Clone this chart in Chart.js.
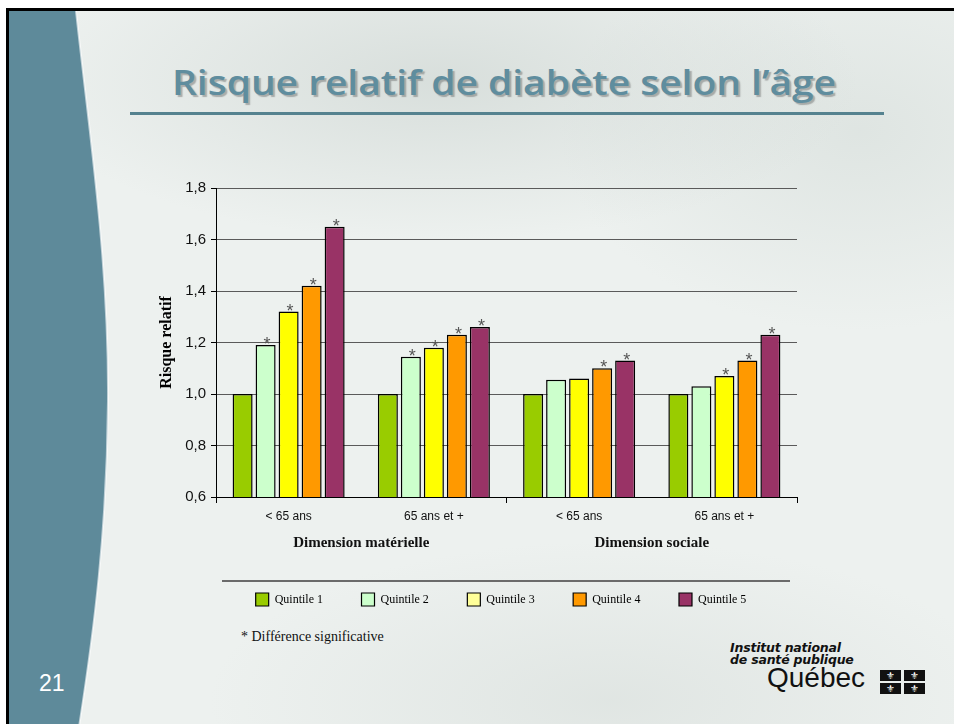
<!DOCTYPE html>
<html lang="fr">
<head>
<meta charset="utf-8">
<script src="https://cdn.jsdelivr.net/npm/chart.js@4"></script>
<style>
  html, body { margin: 0; padding: 0; background: #ffffff; }
  body { width: 954px; height: 724px; position: relative; overflow: hidden; }
  #slide {
    position: absolute; left: 6px; top: 8px; width: 948px; height: 716px;
    border-top: 3px solid #000; border-left: 3px solid #000; box-sizing: border-box;
    background:
      radial-gradient(ellipse 420px 160px at 430px 70px, rgba(190,200,196,0.45), rgba(190,200,196,0) 100%),
      radial-gradient(ellipse 300px 200px at 850px 120px, rgba(205,214,210,0.45), rgba(205,214,210,0) 100%),
      radial-gradient(ellipse 400px 160px at 600px 690px, rgba(200,208,204,0.35), rgba(200,208,204,0) 100%),
      #edf1ef;
    overflow: hidden;
  }
  #strip { position: absolute; left: 0; top: 0; }
  #title {
    position: absolute; left: 172px; top: 62px; white-space: nowrap;
    font-family: "Open Sans", "DejaVu Sans", sans-serif; font-weight: 600; font-size: 34px;
    color: #5f8d9e; text-shadow: 2px 2px 1px rgba(60,60,60,0.35);
    transform-origin: 0 0; line-height: 40px;
  }
  #rule { position: absolute; left: 130px; top: 112px; width: 754px; height: 3px; background: #55828f; }
  #pagenum { position: absolute; left: 39px; top: 670px; font-family: "Liberation Sans", Arial, sans-serif; font-size: 23px; color: #ffffff; }
  #note { position: absolute; left: 241px; top: 629px; font-family: "Liberation Serif", "Times New Roman", serif; font-size: 14px; color: #111; }
  #chart { position: absolute; left: 0; top: 0; }
  .logo1 { position: absolute; left: 730px; font-family: "DejaVu Sans", "Liberation Sans", sans-serif; font-weight: bold; font-style: italic; font-size: 12.5px; line-height: 13px; color: #111; letter-spacing: -0.2px; }
  .qc { position: absolute; left: 767px; top: 664px; font-family: "Liberation Sans", Arial, sans-serif; font-size: 28px; line-height: 28px; color: #111; }
  .flag { position: absolute; width: 21px; height: 11px; background: #111; color: #fff; font-size: 10px; line-height: 11px; text-align: center; font-family: "DejaVu Sans", sans-serif; }
</style>
</head>
<body>
<div id="slide">
  <svg id="strip" width="140" height="716">
    <path d="M0,0 L67,0 C80,120 100,250 99,390 C98,520 85,620 70,716 L0,716 Z" fill="#5e8a9a"/>
    <path d="M67,0 C80,120 100,250 99,390 C98,520 85,620 70,716" fill="none" stroke="#ffffff" stroke-opacity="0.6" stroke-width="2"/>
  </svg>
</div>
<div id="title">Risque relatif de diabète selon l’âge</div>
<div id="rule"></div>
<div id="pagenum">21</div>
<div id="note">* Différence significative</div>
<div class="logo1" style="top:641px">Institut national</div>
<div class="logo1" style="top:653px">de santé publique</div>
<div class="qc">Québec</div>
<div class="flag" style="left:880px;top:670px">⚜</div>
<div class="flag" style="left:904px;top:670px">⚜</div>
<div class="flag" style="left:880px;top:683px">⚜</div>
<div class="flag" style="left:904px;top:683px">⚜</div>
<canvas id="chart" width="954" height="724"></canvas>
<script>
// ---- data ----
const ageGroups = ['< 65 ans', '65 ans et +', '< 65 ans', '65 ans et +'];
const dimensions = ['Dimension matérielle', 'Dimension sociale'];
const seriesNames = ['Quintile 1', 'Quintile 2', 'Quintile 3', 'Quintile 4', 'Quintile 5'];
const quintile1 = [1.00, 1.00, 1.00, 1.00];
const quintile2 = [1.19, 1.145, 1.055, 1.03];
const quintile3 = [1.32, 1.18, 1.06, 1.07];
const quintile4 = [1.42, 1.23, 1.10, 1.13];
const quintile5 = [1.65, 1.26, 1.13, 1.23];
const signif1 = [false, false, false, false];
const signif2 = [true, true, false, false];
const signif3 = [true, true, false, true];
const signif4 = [true, true, true, true];
const signif5 = [true, true, true, true];
const yTickLabels = ['0,6', '0,8', '1,0', '1,2', '1,4', '1,6', '1,8'];

// ---- styles ----
const barColors = ['#99cc00', '#ccffcc', '#ffff00', '#ff9900', '#993366'];
const legendColors = ['#99cc00', '#ccffcc', '#ffff99', '#ff9900', '#993366'];
const values = [quintile1, quintile2, quintile3, quintile4, quintile5];
const signifs = [signif1, signif2, signif3, signif4, signif5];

// fit title width
(function () {
  const t = document.getElementById('title');
  const w = t.getBoundingClientRect().width;
  t.style.transform = 'scaleX(' + (664 / w) + ')';
})();

const starPlugin = {
  id: 'stars',
  afterDatasetsDraw(chart) {
    const ctx = chart.ctx;
    ctx.save();
    ctx.font = '18px "Liberation Sans", Arial, sans-serif';
    ctx.fillStyle = '#555';
    ctx.textAlign = 'center';
    ctx.textBaseline = 'alphabetic';
    chart.data.datasets.forEach((ds, di) => {
      const meta = chart.getDatasetMeta(di);
      meta.data.forEach((bar, i) => {
        if (signifs[di][i]) ctx.fillText('*', bar.x + 1.5, bar.y + 5);
      });
    });
    ctx.restore();
  }
};

const decoPlugin = {
  id: 'deco',
  afterDraw(chart) {
    const ctx = chart.ctx;
    const xs = chart.scales.x;
    ctx.save();
    ctx.font = 'bold 15px "Liberation Serif", "Times New Roman", serif';
    ctx.fillStyle = '#111';
    ctx.textAlign = 'center';
    ctx.textBaseline = 'middle';
    dimensions.forEach((d, k) => {
      const x = (xs.getPixelForValue(2 * k) + xs.getPixelForValue(2 * k + 1)) / 2;
      ctx.fillText(d, x, chart.chartArea.bottom + 46);
    });
    // separator line above legend
    const lg = chart.legend;
    ctx.strokeStyle = '#6b6b6b';
    ctx.lineWidth = 2;
    ctx.beginPath();
    ctx.moveTo(222, lg.top + 26.5);
    ctx.lineTo(790, lg.top + 26.5);
    ctx.stroke();
    ctx.restore();
  }
};

new Chart(document.getElementById('chart'), {
  type: 'bar',
  data: {
    labels: ageGroups,
    datasets: seriesNames.map((name, i) => ({
      label: name,
      data: values[i],
      backgroundColor: barColors[i],
      borderColor: '#000',
      borderWidth: 1.5,
      borderSkipped: false,
      categoryPercentage: 0.792,
      barPercentage: 0.87
    }))
  },
  options: {
    responsive: false,
    animation: false,
    devicePixelRatio: 1,
    layout: { padding: { left: 146, top: 188, right: 98, bottom: 108 } },
    plugins: {
      tooltip: { enabled: false },
      title: { display: false },
      legend: {
        position: 'bottom',
        align: 'center',
        labels: {
          boxWidth: 13,
          boxHeight: 13,
          padding: 38.5,
          color: '#111',
          font: { family: '"Liberation Serif", "Times New Roman", serif', size: 12 },
          generateLabels(chart) {
            return chart.data.datasets.map((ds, i) => ({
              text: ds.label,
              fillStyle: legendColors[i],
              strokeStyle: '#000',
              lineWidth: 1.2,
              hidden: false,
              datasetIndex: i
            }));
          }
        }
      }
    },
    scales: {
      x: {
        offset: true,
        afterFit(s) { s.height = 57.5; },
        grid: {
          offset: true,
          drawOnChartArea: false,
          drawTicks: true,
          tickLength: 6,
          color: (c) => (c.index === 1 || c.index === 3) ? 'rgba(0,0,0,0)' : '#000',
          lineWidth: 1
        },
        border: { display: true, color: '#000', width: 1 },
        ticks: {
          color: '#111',
          padding: 6,
          font: { family: '"Liberation Sans", Arial, sans-serif', size: 12 },
          maxRotation: 0,
          autoSkip: false
        }
      },
      y: {
        min: 0.6,
        max: 1.8,
        afterFit(s) { s.width = 70; },
        afterBuildTicks(s) {
          s.ticks = yTickLabels.map((t) => ({ value: parseFloat(t.replace(',', '.')) }));
        },
        grid: {
          color: '#5a5a5a',
          lineWidth: 1,
          tickLength: 5,
          tickColor: '#000',
          drawTicks: true
        },
        border: { display: true, color: '#000', width: 1 },
        ticks: {
          color: '#111',
          padding: 5,
          font: { family: '"Liberation Sans", Arial, sans-serif', size: 15 },
          callback: (v, i) => yTickLabels[i]
        },
        title: {
          display: true,
          text: 'Risque relatif',
          color: '#000',
          padding: { top: 11, bottom: 0 },
          font: { family: '"Liberation Serif", "Times New Roman", serif', size: 16, weight: 'bold' }
        }
      },
      y2: {
        position: 'right',
        display: true,
        min: 0.6,
        max: 1.8,
        afterFit(s) { s.width = 59; },
        grid: { display: false, drawOnChartArea: false },
        border: { display: false },
        ticks: { display: false }
      }
    }
  },
  plugins: [starPlugin, decoPlugin]
});
</script>
</body>
</html>
